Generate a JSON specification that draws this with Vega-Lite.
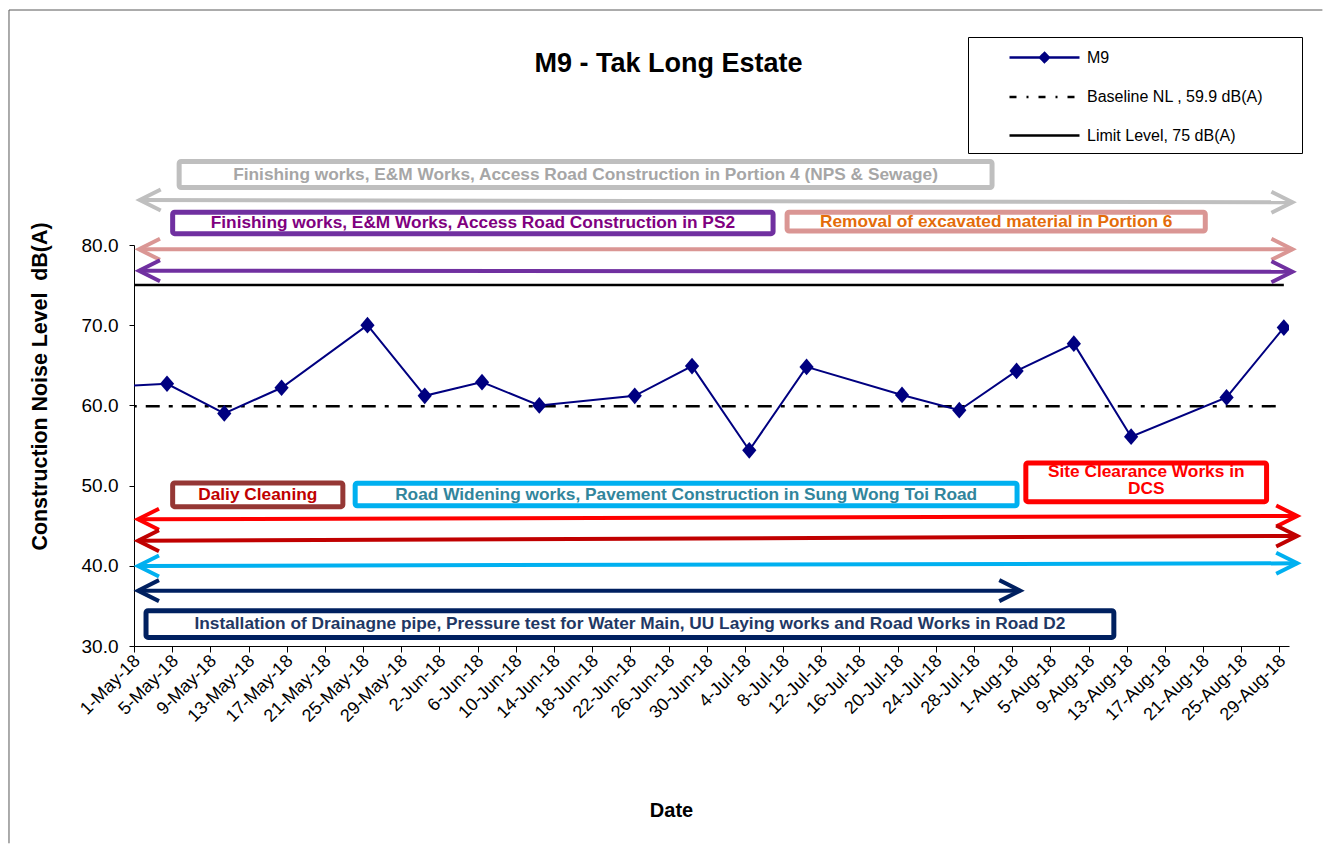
{
  "$schema": "https://vega.github.io/schema/vega-lite/v6.json",
  "width": 1155,
  "height": 401,
  "autosize": {"type": "none"},
  "padding": {"left": 134, "top": 245, "right": 34, "bottom": 198},
  "background": "#ffffff",
  "title": {"text": "M9 - Tak Long Estate", "anchor": "middle", "frame": "group", "dx": -43, "offset": -89.5, "baseline": "alphabetic", "fontSize": 27, "font": "Liberation Sans", "fontWeight": "bold", "color": "#000000"},
  "config": {
    "font": "Liberation Sans",
    "view": {"stroke": null},
    "axis": {"domainColor": "#000000", "tickColor": "#000000", "labelColor": "#000000", "titleColor": "#000000", "grid": false, "domainWidth": 1, "tickWidth": 1}
  },
  "datasets": {
    "m9": [
      {"date": "2018-04-28T11:00", "value": 62.3, "series": "M9"},
      {"date": "2018-05-04T11:00", "value": 62.7, "series": "M9"},
      {"date": "2018-05-10T11:00", "value": 59.0, "series": "M9"},
      {"date": "2018-05-16T11:00", "value": 62.2, "series": "M9"},
      {"date": "2018-05-25T11:00", "value": 70.0, "series": "M9"},
      {"date": "2018-05-31T11:00", "value": 61.2, "series": "M9"},
      {"date": "2018-06-06T11:00", "value": 62.9, "series": "M9"},
      {"date": "2018-06-12T11:00", "value": 60.0, "series": "M9"},
      {"date": "2018-06-22T11:00", "value": 61.2, "series": "M9"},
      {"date": "2018-06-28T11:00", "value": 64.9, "series": "M9"},
      {"date": "2018-07-04T11:00", "value": 54.4, "series": "M9"},
      {"date": "2018-07-10T11:00", "value": 64.8, "series": "M9"},
      {"date": "2018-07-20T11:00", "value": 61.3, "series": "M9"},
      {"date": "2018-07-26T11:00", "value": 59.4, "series": "M9"},
      {"date": "2018-08-01T11:00", "value": 64.3, "series": "M9"},
      {"date": "2018-08-07T11:00", "value": 67.7, "series": "M9"},
      {"date": "2018-08-13T11:00", "value": 56.1, "series": "M9"},
      {"date": "2018-08-23T11:00", "value": 61.0, "series": "M9"},
      {"date": "2018-08-29T11:00", "value": 69.7, "series": "M9"}
    ],
    "refs": [
      {"series": "Baseline NL , 59.9 dB(A)", "value": 59.9, "start": "2018-04-28T11:00", "end": "2018-08-29T11:00"},
      {"series": "Limit Level, 75 dB(A)", "value": 75, "start": "2018-04-28T11:00", "end": "2018-08-29T11:00"}
    ],
    "arrows": [
      {"task": "Portion 4", "x1": "2018-05-01T14:24", "x2": "2018-08-30T08:38", "y1": 85.61, "y2": 85.33},
      {"task": "Portion 6", "x1": "2018-05-01T12:30", "x2": "2018-08-30T08:38", "y1": 79.46, "y2": 79.46},
      {"task": "PS2", "x1": "2018-05-01T12:30", "x2": "2018-08-30T08:38", "y1": 76.80, "y2": 76.67},
      {"task": "Site Clearance", "x1": "2018-05-01T10:00", "x2": "2018-08-30T20:38", "y1": 45.80, "y2": 46.21},
      {"task": "Daily Cleaning", "x1": "2018-05-01T10:00", "x2": "2018-08-30T20:38", "y1": 43.13, "y2": 43.72},
      {"task": "Road Widening", "x1": "2018-05-01T10:00", "x2": "2018-08-30T20:38", "y1": 39.98, "y2": 40.31},
      {"task": "Road D2", "x1": "2018-05-01T10:00", "x2": "2018-08-01T20:24", "y1": 36.9, "y2": 36.9}
    ],
    "boxes": [
      {"task": "Portion 4", "x1": "2018-05-05T17:31", "x2": "2018-07-29T21:22", "y1": 90.41, "y2": 87.17, "tx": "2018-06-17T07:26", "ty": 88.79, "label": "Finishing works, E&M Works, Access Road Construction in Portion 4 (NPS & Sewage)"},
      {"task": "PS2", "x1": "2018-05-05T01:12", "x2": "2018-07-06T22:48", "y1": 84.08, "y2": 81.41, "tx": "2018-06-05T12:00", "ty": 82.745, "label": "Finishing works, E&M Works, Access Road Construction in PS2"},
      {"task": "Portion 6", "x1": "2018-07-08T10:05", "x2": "2018-08-21T05:31", "y1": 84.08, "y2": 81.75, "tx": "2018-07-30T07:48", "ty": 82.915, "label": "Removal of excavated material in Portion 6"},
      {"task": "Daily Cleaning", "x1": "2018-05-05T01:12", "x2": "2018-05-22T21:07", "y1": 50.32, "y2": 47.37, "tx": "2018-05-13T23:10", "ty": 48.845, "label": "Daliy Cleaning"},
      {"task": "Road Widening", "x1": "2018-05-24T04:05", "x2": "2018-08-01T12:14", "y1": 50.29, "y2": 47.49, "tx": "2018-06-27T20:10", "ty": 48.89, "label": "Road Widening works, Pavement Construction in Sung Wong Toi Road"},
      {"task": "Site Clearance", "x1": "2018-08-02T10:19", "x2": "2018-08-27T15:36", "y1": 52.82, "y2": 48.0, "tx": "2018-08-15T00:58", "ty": 51.7, "label": ["Site Clearance Works in", "DCS"]},
      {"task": "Road D2", "x1": "2018-05-02T06:14", "x2": "2018-08-11T15:36", "y1": 34.41, "y2": 31.07, "tx": "2018-06-21T22:55", "ty": 32.74, "label": "Installation of Drainagne pipe, Pressure test for Water Main, UU Laying works and Road Works in Road D2"}
    ],
    "frame": [
      {"x1": "2018-04-17T21:42", "x2": "2018-09-02T12:00", "y1": 109.3, "y2": 109.3},
      {"x1": "2018-04-17T21:42", "x2": "2018-04-17T21:42", "y1": 109.3, "y2": 5.4}
    ]
  },
  "layer": [
    {
      "data": {"name": "refs"},
      "mark": {"type": "rule", "clip": true, "strokeWidth": 2.5},
      "encoding": {
        "x": {"field": "start", "type": "temporal", "title": "Date",
          "scale": {"domain": [{"year": 2018, "month": "May", "date": 1}, {"year": 2018, "month": "Aug", "date": 30}]},
          "axis": {
            "values": [
              {"year": 2018, "month": "May", "date": 1}, {"year": 2018, "month": "May", "date": 5}, {"year": 2018, "month": "May", "date": 9}, {"year": 2018, "month": "May", "date": 13},
              {"year": 2018, "month": "May", "date": 17}, {"year": 2018, "month": "May", "date": 21}, {"year": 2018, "month": "May", "date": 25}, {"year": 2018, "month": "May", "date": 29},
              {"year": 2018, "month": "Jun", "date": 2}, {"year": 2018, "month": "Jun", "date": 6}, {"year": 2018, "month": "Jun", "date": 10}, {"year": 2018, "month": "Jun", "date": 14},
              {"year": 2018, "month": "Jun", "date": 18}, {"year": 2018, "month": "Jun", "date": 22}, {"year": 2018, "month": "Jun", "date": 26}, {"year": 2018, "month": "Jun", "date": 30},
              {"year": 2018, "month": "Jul", "date": 4}, {"year": 2018, "month": "Jul", "date": 8}, {"year": 2018, "month": "Jul", "date": 12}, {"year": 2018, "month": "Jul", "date": 16},
              {"year": 2018, "month": "Jul", "date": 20}, {"year": 2018, "month": "Jul", "date": 24}, {"year": 2018, "month": "Jul", "date": 28},
              {"year": 2018, "month": "Aug", "date": 1}, {"year": 2018, "month": "Aug", "date": 5}, {"year": 2018, "month": "Aug", "date": 9}, {"year": 2018, "month": "Aug", "date": 13},
              {"year": 2018, "month": "Aug", "date": 17}, {"year": 2018, "month": "Aug", "date": 21}, {"year": 2018, "month": "Aug", "date": 25}, {"year": 2018, "month": "Aug", "date": 29}
            ],
            "tickCount": 100,
            "format": "%-d-%b-%y", "labelAngle": -45, "labelAlign": "right", "labelBaseline": "middle",
            "labelFontSize": 18, "labelPadding": 6, "labelOffset": 3, "labelOverlap": false, "labelFlush": false, "labelBound": false,
            "tickSize": 6, "title": "Date", "titleFontSize": 20, "titleFontWeight": "bold",
            "titleX": 537, "titleY": 164, "titleBaseline": "middle", "titleAlign": "center"
          }
        },
        "x2": {"field": "end"},
        "y": {"field": "value", "type": "quantitative", "title": "Construction Noise Level\u00a0 dB(A)",
          "scale": {"domain": [30, 80], "nice": false, "zero": false},
          "axis": {
            "values": [30, 40, 50, 60, 70, 80], "format": ".1f", "labelFontSize": 19, "labelPadding": 11, "tickSize": 5,
            "title": "Construction Noise Level\u00a0 dB(A)", "titleFontSize": 21.4, "titleFontWeight": "bold",
            "titleX": -94, "titleY": 141, "titleAngle": -90, "titleBaseline": "middle", "titleAlign": "center"
          }
        },
        "color": {"field": "series", "type": "nominal",
          "scale": {"domain": ["M9", "Baseline NL , 59.9 dB(A)", "Limit Level, 75 dB(A)"], "range": ["#000080", "#000000", "#000000"]},
          "legend": {
            "title": null, "orient": "none", "legendX": 834, "legendY": -208,
            "padding": 9, "strokeColor": "#000000", "fillColor": "#ffffff",
            "symbolSize": 400, "symbolStrokeWidth": 2.5, "rowPadding": 18.5, "labelOffset": 87,
            "labelFontSize": 16, "labelColor": "#000000", "labelLimit": 400,
            "encode": {"symbols": {"update": {
              "shape": {"signal": "datum.value === 'M9' ? 'M2.1,0L9.1,0M5.6,-0.45L6.05,0L5.6,0.45L5.15,0ZM29.9,0' : 'M2.1,0L9.1,0M29.9,0'"},
              "fill": {"signal": "datum.value === 'M9' ? '#000080' : 'transparent'"},
              "strokeDash": {"signal": "datum.value === 'Baseline NL , 59.9 dB(A)' ? [7, 10, 2, 10] : [1, 0]"},
              "strokeWidth": {"value": 2.5},
              "opacity": {"value": 1}
            }}}
          }
        },
        "strokeDash": {"field": "series", "type": "nominal",
          "scale": {"domain": ["Baseline NL , 59.9 dB(A)", "Limit Level, 75 dB(A)"], "range": [[14, 9, 4, 9], [1, 0]]},
          "legend": null}
      }
    },
    {
      "data": {"name": "m9"},
      "mark": {"type": "line", "clip": true, "strokeWidth": 2},
      "encoding": {
        "x": {"field": "date", "type": "temporal", "title": "Date"},
        "y": {"field": "value", "type": "quantitative", "title": "Construction Noise Level\u00a0 dB(A)"},
        "color": {"field": "series", "type": "nominal"}
      }
    },
    {
      "data": {"name": "m9"},
      "mark": {"type": "point", "clip": true, "filled": true, "opacity": 1, "size": 280, "shape": "M0,-1L0.85,0L0,1L-0.85,0Z"},
      "encoding": {
        "x": {"field": "date", "type": "temporal", "title": "Date"},
        "y": {"field": "value", "type": "quantitative", "title": "Construction Noise Level\u00a0 dB(A)"},
        "color": {"field": "series", "type": "nominal"}
      }
    },
    {
      "data": {"name": "arrows"},
      "mark": {"type": "rule", "strokeWidth": 4, "strokeCap": "butt"},
      "encoding": {
        "x": {"field": "x1", "type": "temporal", "title": "Date"},
        "x2": {"field": "x2"},
        "y": {"field": "y1", "type": "quantitative", "title": "Construction Noise Level\u00a0 dB(A)"},
        "y2": {"field": "y2"},
        "stroke": {"field": "task", "type": "nominal", "legend": null,
          "scale": {"domain": ["Portion 4", "PS2", "Portion 6", "Daily Cleaning", "Road Widening", "Site Clearance", "Road D2"],
                    "range": ["#BFBFBF", "#7030A0", "#DA9694", "#C00000", "#00B0F0", "#FF0000", "#002060"]}}
      }
    },
    {
      "data": {"name": "arrows"},
      "mark": {"type": "point", "filled": false, "opacity": 1, "size": 441, "strokeWidth": 4, "strokeJoin": "miter", "shape": "M2,-1L0,0L2,1"},
      "encoding": {
        "x": {"field": "x1", "type": "temporal", "title": "Date"},
        "y": {"field": "y1", "type": "quantitative", "title": "Construction Noise Level\u00a0 dB(A)"},
        "stroke": {"field": "task", "type": "nominal", "legend": null,
          "scale": {"domain": ["Portion 4", "PS2", "Portion 6", "Daily Cleaning", "Road Widening", "Site Clearance", "Road D2"],
                    "range": ["#BFBFBF", "#7030A0", "#DA9694", "#C00000", "#00B0F0", "#FF0000", "#002060"]}}
      }
    },
    {
      "data": {"name": "arrows"},
      "mark": {"type": "point", "filled": false, "opacity": 1, "size": 441, "strokeWidth": 4, "strokeJoin": "miter", "shape": "M-2,-1L0,0L-2,1"},
      "encoding": {
        "x": {"field": "x2", "type": "temporal", "title": "Date"},
        "y": {"field": "y2", "type": "quantitative", "title": "Construction Noise Level\u00a0 dB(A)"},
        "stroke": {"field": "task", "type": "nominal", "legend": null,
          "scale": {"domain": ["Portion 4", "PS2", "Portion 6", "Daily Cleaning", "Road Widening", "Site Clearance", "Road D2"],
                    "range": ["#BFBFBF", "#7030A0", "#DA9694", "#C00000", "#00B0F0", "#FF0000", "#002060"]}}
      }
    },
    {
      "data": {"name": "boxes"},
      "mark": {"type": "rect", "fill": "#ffffff", "strokeWidth": 5, "cornerRadius": 2},
      "encoding": {
        "x": {"field": "x1", "type": "temporal", "title": "Date"},
        "x2": {"field": "x2"},
        "y": {"field": "y1", "type": "quantitative", "title": "Construction Noise Level\u00a0 dB(A)"},
        "y2": {"field": "y2"},
        "stroke": {"field": "task", "type": "nominal", "legend": null,
          "scale": {"domain": ["Portion 4", "PS2", "Portion 6", "Daily Cleaning", "Road Widening", "Site Clearance", "Road D2"],
                    "range": ["#BFBFBF", "#7030A0", "#DA9694", "#953735", "#00B0F0", "#FF0000", "#002060"]}}
      }
    },
    {
      "data": {"name": "boxes"},
      "mark": {"type": "text", "fontSize": 17.3, "fontWeight": "bold", "align": "center", "baseline": "middle", "lineHeight": 17.5},
      "encoding": {
        "x": {"field": "tx", "type": "temporal", "title": "Date"},
        "y": {"field": "ty", "type": "quantitative", "title": "Construction Noise Level\u00a0 dB(A)"},
        "text": {"field": "label"},
        "fill": {"field": "task", "type": "nominal", "legend": null,
          "scale": {"domain": ["Portion 4", "PS2", "Portion 6", "Daily Cleaning", "Road Widening", "Site Clearance", "Road D2"],
                    "range": ["#A6A6A6", "#800080", "#E46C0A", "#C00000", "#31859C", "#FF0000", "#1F3864"]}}
      }
    },
    {
      "data": {"name": "frame"},
      "mark": {"type": "rule", "color": "#595959", "strokeWidth": 1},
      "encoding": {
        "x": {"field": "x1", "type": "temporal", "title": "Date"},
        "x2": {"field": "x2"},
        "y": {"field": "y1", "type": "quantitative", "title": "Construction Noise Level\u00a0 dB(A)"},
        "y2": {"field": "y2"}
      }
    }
  ],
  "resolve": {"scale": {"stroke": "independent", "fill": "independent"}}
}
